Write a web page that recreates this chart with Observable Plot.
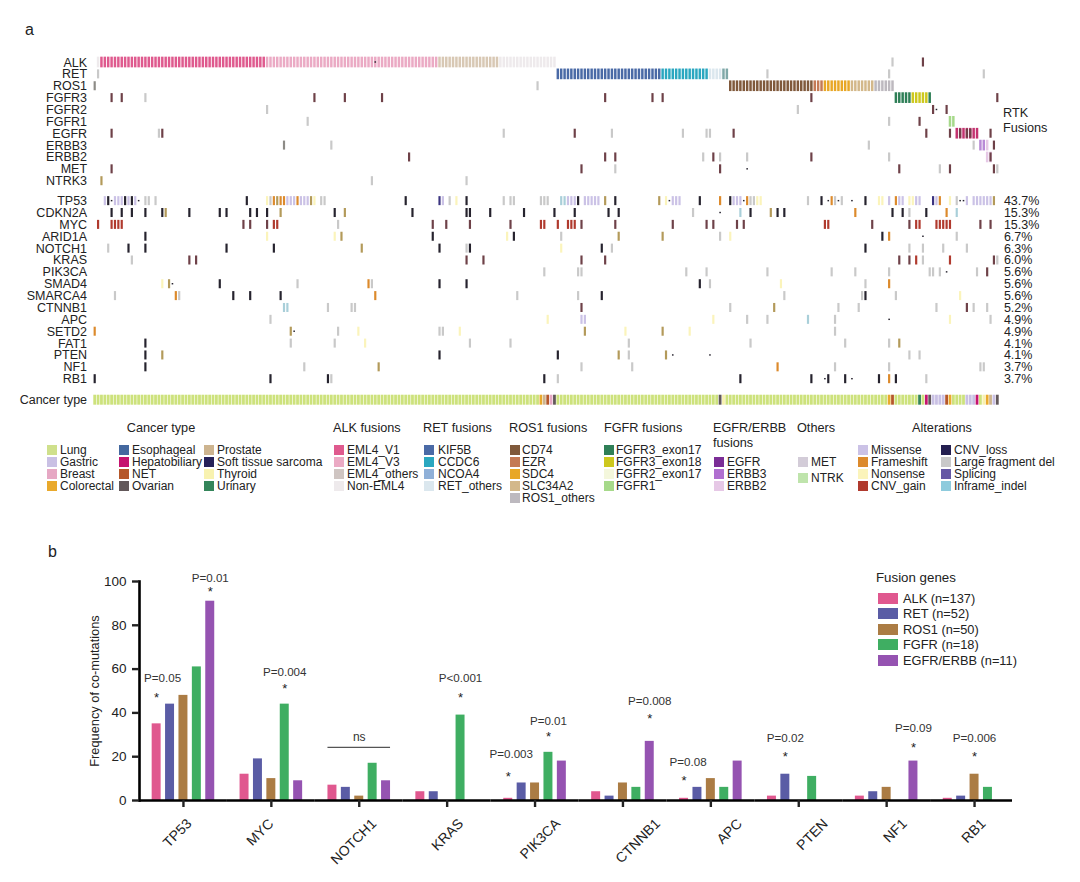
<!DOCTYPE html>
<html><head><meta charset="utf-8">
<script src="https://cdn.jsdelivr.net/npm/d3@7"></script>
<script src="https://cdn.jsdelivr.net/npm/@observablehq/plot@0.6"></script>
<style>
html,body{margin:0;padding:0;background:#fff}
#page{position:relative;width:1080px;height:882px;overflow:hidden;font-family:"Liberation Sans",Arial,sans-serif;color:#222}
#page svg{position:absolute;left:0;font-family:"Liberation Sans",Arial,sans-serif;background:none}
.t{position:absolute;white-space:nowrap;font-size:12px;line-height:12px}
.s{position:absolute}
</style></head><body><div id="page"></div>
<script>
// ---------- panel a: oncoprint ----------
const sampleCount = 268;
const fusionGenes = ["ALK","RET","ROS1","FGFR3","FGFR2","FGFR1","EGFR","ERBB3","ERBB2","MET","NTRK3"];
const mutationGenes = ["TP53","CDKN2A","MYC","ARID1A","NOTCH1","KRAS","PIK3CA","SMAD4","SMARCA4","CTNNB1","APC","SETD2","FAT1","PTEN","NF1","RB1"];
const mutationPct = ["43.7%","15.3%","15.3%","6.7%","6.3%","6.0%","5.6%","5.6%","5.6%","5.2%","4.9%","4.9%","4.1%","4.1%","3.7%","3.7%"];

// fusion strips: [gene, first sample, last sample + 1, fusion partner]
const fusionRuns = [
 ["ALK",1,2,"Non-EML4"],["ALK",2,51,"EML4_V1"],["ALK",51,102,"EML4_V3"],["ALK",102,120,"EML4_others"],["ALK",120,137,"Non-EML4"],
 ["RET",137,168,"KIF5B"],["RET",168,182,"CCDC6"],["RET",182,186,"RET_others"],["RET",186,188,"NCOA4"],
 ["ROS1",188,213,"CD74"],["ROS1",213,216,"EZR"],["ROS1",216,224,"SDC4"],["ROS1",224,231,"SLC34A2"],["ROS1",231,237,"ROS1_others"],
 ["FGFR3",237,242,"FGFR3_exon17"],["FGFR3",242,247,"FGFR3_exon18"],["FGFR3",247,248,"FGFR3_exon17"],
 ["FGFR1",253,255,"FGFR1"],["EGFR",255,262,"EGFR"],["ERBB3",262,264,"ERBB3"],["ERBB3",264,265,"ERBB2"],["ERBB2",264,266,"ERBB2"]
];

// sparse calls: sample number + alteration code
const ALK_calls=["83d","236D","245A"];
const RET_calls=["1D","199D","235D","263D"];
const ROS1_calls=["0K","131D"];
const FGFR3_calls=["5A","8A","15D","65A","74A","85A","151A","165A","168A","212A","267A"];
const FGFR2_calls=["51D","208D","248A","249d","252A"];
const FGFR1_calls=["63D","235D","244A"];
const EGFR_calls=["5A","19D","20A","121D","142A","153D","174D","181D","182D","189A","246A","253A","256A","258A","259A","265A"];
const ERBB3_calls=["56K","70D","229D","260D","266A"];
const ERBB2_calls=["93A","151A","154A","180D","183A","185D","193D","212A","235D","265A"];
const MET_calls=["5A","144A","154D","185A","193d","238A","250D","253A","266A","267D"];
const NTRK3_calls=["2T","82D","110D"];
const TP53_calls=["3M","4L","5d","6M","7M","8M","9L","10M","11L","12M","13d","15D","16D","18D","45L","51N","52D","53F","54T","55F","56F","57M","58M","59M","60F","61M","62M","63M","64T","65N","67D","68D","92L","102S","103M","105D","107N","110L","121D","123D","124D","132D","133D","134D","138I","139I","140M","141M","142M","143L","145M","146M","147M","148M","149M","151T","154L","167T","169N","170d","171M","172M","173M","179L","185F","188L","189M","190M","191M","192d","193F","194D","195D","196N","197N","211D","215L","217d","218F","219D","220d","221D","224d","228L","232N","233N","235M","237F","238M","239M","241N","242N","243M","244M","248S","249M","250F","253N","255D","256d","257d","258M","260M","261M","262M","263M","264M","265M","266T"];
const CDKN2A_calls=["5L","8L","11L","15L","20L","21T","28L","37L","39L","46L","48L","51L","55T","71L","74T","94L","110L","111L","117L","127L","136L","142L","152L","155L","177D","185d","191I","194L","200T","202L","204L","225F","236L","239L","241D","246L","252F","255I"];
const MYC_calls=["1G","5G","6G","7G","8G","44A","46A","51A","53G","54G","72D","100A","104A","111A","123A","132G","133G","137G","140G","141G","142G","144A","154A","171A","181A","183A","190A","192A","216G","217G","230A","241A","243G","244G","249G","250G","251G","252G","253G","262A","265A"];
const ARID1A_calls=["15L","51N","71N","73T","100L","122N","124L","138D","155T","168T","185D","188N","233L","235F","245d","255D"];
const NOTCH1_calls=["4D","10L","15L","39L","53L","79T","102L","110D","111L","138N","150L","153D","228L","241D","245D","251D","258D"];
const KRAS_calls=["11D","28A","30A","110A","115A","144A","151A","238A","241A","243G","245D","253G","266A","267D"];
const PIK3CA_calls=["133D","143D","144D","175D","181D","199D","218D","225D","235D","247D","248D","250D","252d","261D","264A"];
const SMAD4_calls=["20N","22T","23d","37L","60D","81F","82D","102L","110L","179L","182D","203N","228D","235F"];
const SMARCA4_calls=["6D","24F","25D","41L","46L","55L","83F","125D","143D","150L","204D","227D","228L","237D","256N"];
const CTNNB1_calls=["56I","57I","69D","76D","77D","144A","188D","201T","220D","226D","249D","258A","260D","264D"];
const APC_calls=["52D","134N","144M","145M","183N","193D","199D","211I","219D","235d","253N","265D"];
const SETD2_calls=["0F","58T","59d","72D","78N","102D","103D","108N","145T","157N","168T","176N","219D"];
const FAT1_calls=["15L","58D","71D","80N","111D","123D","158D","194D","222D","235D","238T"];
const PTEN_calls=["15L","20T","102L","137L","155T","158D","169T","171d","182d","241D","244D"];
const NF1_calls=["15L","62D","84T","144D","159D","202F","219D","235D","262D","263D"];
const RB1_calls=["0L","52L","69L","70D","133L","137D","191L","212L","216d","217L","222L","224d","232L","235F","237L","246D"];
const callsByGene={ALK:ALK_calls,RET:RET_calls,ROS1:ROS1_calls,FGFR3:FGFR3_calls,FGFR2:FGFR2_calls,FGFR1:FGFR1_calls,EGFR:EGFR_calls,ERBB3:ERBB3_calls,ERBB2:ERBB2_calls,MET:MET_calls,NTRK3:NTRK3_calls,TP53:TP53_calls,CDKN2A:CDKN2A_calls,MYC:MYC_calls,ARID1A:ARID1A_calls,NOTCH1:NOTCH1_calls,KRAS:KRAS_calls,PIK3CA:PIK3CA_calls,SMAD4:SMAD4_calls,SMARCA4:SMARCA4_calls,CTNNB1:CTNNB1_calls,APC:APC_calls,SETD2:SETD2_calls,FAT1:FAT1_calls,PTEN:PTEN_calls,NF1:NF1_calls,RB1:RB1_calls};

// cancer type strip: everything is Lung apart from these samples
const cancerExceptions=[[132,"Colorectal"],[133,"Prostate"],[134,"NET"],[135,"Breast"],[136,"Ovarian"],[185,"Ovarian"],[186,"Thyroid"],[235,"Colorectal"],[236,"NET"],[244,"Urinary"],[246,"Hepatobiliary"],[247,"Ovarian"],[248,"Gastric"],[249,"Gastric"],[250,"Gastric"],[251,"Gastric"],[252,"NET"],[253,"Colorectal"],[258,"Gastric"],[259,"Gastric"],[260,"Gastric"],[261,"Hepatobiliary"],[263,"Thyroid"],[264,"Colorectal"],[265,"Prostate"],[266,"Gastric"],[267,"Ovarian"]];

// legend contents
const cancerNames=["Lung","Gastric","Breast","Colorectal","Esophageal","Hepatobiliary","NET","Ovarian","Prostate","Soft tissue sarcoma","Thyroid","Urinary"];
const cancerColors=["#cfe08c","#c9c0e4","#e6a8c4","#e9a92c","#44689f","#c5136f","#b5572a","#62585a","#cdb48f","#262158","#f8f2b0","#34855a"];
const alkNames=["EML4_V1","EML4_V3","EML4_others","Non-EML4"], alkColors=["#df5a8e","#ebaac4","#cfc5c2","#eeeaec"];
const retNames=["KIF5B","CCDC6","NCOA4","RET_others"], retColors=["#4a6aa6","#2aa7c0","#8fb0d8","#dbe7ee"];
const rosNames=["CD74","EZR","SDC4","SLC34A2","ROS1_others"], rosColors=["#80593b","#c47a55","#e8a726","#d3b88a","#bdb9bf"];
const fgfrNames=["FGFR3_exon17","FGFR3_exon18","FGFR2_exon17","FGFR1"], fgfrColors=["#2f7f57","#cdc81e","#f4f7dc","#a6d98a"];
const egfrNames=["EGFR","ERBB3","ERBB2"], egfrColors=["#7b2d96","#b06fd0","#e6c8e6"];
const otherNames=["MET","NTRK"], otherColors=["#d3ccd8","#bfe4ac"];
const altNames=["Missense","Frameshift","Nonsense","CNV_gain","CNV_loss","Large fragment del","Splicing","Inframe_indel"];
const altColors=["#cbc2e6","#dc8a2c","#fbf4bb","#b03a2e","#241f50","#c9c9c9","#6558a4","#8ecbdd"];

const fusionPalette=Object.fromEntries([...alkNames.map((n,i)=>[n,alkColors[i]]),...retNames.map((n,i)=>[n,retColors[i]]),...rosNames.map((n,i)=>[n,rosColors[i]]),...fgfrNames.map((n,i)=>[n,fgfrColors[i]]),...egfrNames.map((n,i)=>[n,egfrColors[i]])]);
// colours as the strips show them (blurred against white, overlapping calls)
Object.assign(fusionPalette,{EML4_others:"#d8c8b4",NCOA4:"#7fa8a8",EGFR:"#c4326f",ERBB3:"#b98ad6"});
const callPalette={M:altColors[0],F:altColors[1],N:altColors[2],G:altColors[3],L:"#26232e",D:altColors[5],S:"#3b3480",I:"#a9cfd9",A:"#6e4148",T:"#b39a5a",K:"#8d8b86",d:"#26232e"};
const cancerPalette=Object.fromEntries(cancerNames.map((n,i)=>[n,cancerColors[i]]));

const rowIndex=new Map();
fusionGenes.forEach((g,i)=>rowIndex.set(g,i));
const mutationStart=11.68;
mutationGenes.forEach((g,i)=>rowIndex.set(g,mutationStart+i));
const cancerRow=mutationStart+15+1.77;

const stripCells=fusionRuns.flatMap(([g,a,b,p])=>d3.range(a,b).map(c=>({c,r:rowIndex.get(g),fill:fusionPalette[p]})));
const callCells=Object.entries(callsByGene).flatMap(([g,list])=>list.map(s=>({c:parseInt(s),code:s.slice(-1),r:rowIndex.get(g)})));
const fullCalls=callCells.filter(d=>d.code!=="d"), dashCalls=callCells.filter(d=>d.code==="d");
const cancerOverride=new Map(cancerExceptions);
const cancerCells=d3.range(sampleCount).map(c=>({c,r:cancerRow,type:cancerOverride.get(c)||"Lung"}));
const labelRows=[...fusionGenes,...mutationGenes].map(g=>({g,r:rowIndex.get(g)})).concat([{g:"Cancer type",r:cancerRow}]);
const pctRows=mutationGenes.map((g,i)=>({p:mutationPct[i],r:rowIndex.get(g)}));

const rowPx=i=>62+11.87*i;
const oncoprint=Plot.plot({
  width:1080,height:425,marginTop:0,marginBottom:0,marginLeft:0,marginRight:0,
  x:{domain:[0,sampleCount],range:[93,999],axis:null},
  y:{domain:[-1,30],range:[rowPx(-1),rowPx(30)],axis:null},
  marks:[
    Plot.rect(cancerCells,{x1:"c",x2:d=>d.c+1,y1:d=>d.r-.42,y2:d=>d.r+.42,fill:d=>d.type==="Lung"?"#cde27c":cancerPalette[d.type],insetLeft:.3,insetRight:.3}),
    Plot.rect(stripCells,{x1:"c",x2:d=>d.c+1,y1:d=>d.r-.45,y2:d=>d.r+.45,fill:"fill",insetLeft:.45,insetRight:.45}),
    Plot.rect(fullCalls,{x1:"c",x2:d=>d.c+1,y1:d=>d.r-.38,y2:d=>d.r+.38,fill:d=>callPalette[d.code],insetLeft:.6,insetRight:.6}),
    Plot.rect(dashCalls,{x1:"c",x2:d=>d.c+1,y1:d=>d.r-.06,y2:d=>d.r+.06,fill:d=>callPalette[d.code],insetLeft:.9,insetRight:.9}),
    Plot.text(labelRows,{x:-1.9,y:"r",text:"g",textAnchor:"end",fontSize:12.5,fill:"#222"}),
    Plot.text(pctRows,{x:sampleCount+1.3,y:"r",text:"p",textAnchor:"start",fontSize:12.5,fill:"#222"})
  ]
});
oncoprint.style.top="0px";

// ---------- panel b: co-mutation bars ----------
const barGenes=["TP53","MYC","NOTCH1","KRAS","PIK3CA","CTNNB1","APC","PTEN","NF1","RB1"];
const fusionGroups=["ALK","RET","ROS1","FGFR","EGFR/ERBB"];
const groupCounts=["ALK (n=137)","RET (n=52)","ROS1 (n=50)","FGFR (n=18)","EGFR/ERBB (n=11)"];
const groupColors=["#e0588f","#5a5ca5","#ab7c44","#3fae62","#9553b1"];
const alkFreq=[35,12,7,4,1,4,1,2,2,1];
const retFreq=[44,19,6,4,8,2,6,12,4,2];
const ros1Freq=[48,10,2,0,8,8,10,0,6,12];
const fgfrFreq=[61,44,17,39,22,6,6,11,0,6];
const egfrFreq=[91,9,9,0,18,27,18,0,18,0];
const freqs=[alkFreq,retFreq,ros1Freq,fgfrFreq,egfrFreq];
const barData=fusionGroups.flatMap((s,i)=>barGenes.map((g,j)=>({gene:g,group:s,value:freqs[i][j]}))).filter(d=>d.value>0);
// significance notes: gene, group above which it sits, star height, label height, label
const notes=[
 ["TP53","ALK",48.4,55.7,"P=0.05"],["TP53","EGFR/ERBB",96.8,101.5,"P=0.01"],
 ["MYC","FGFR",52.5,58.6,"P=0.004"],["KRAS","FGFR",48.2,55.7,"P<0.001"],
 ["PIK3CA","ALK",12.2,20.9,"P=0.003"],["PIK3CA","FGFR",30.6,36.2,"P=0.01"],
 ["CTNNB1","EGFR/ERBB",38.6,45.2,"P=0.008"],["APC","ALK",10.5,17.5,"P=0.08"],
 ["PTEN","RET",21.3,28.6,"P=0.02"],["NF1","EGFR/ERBB",25.3,33.2,"P=0.09"],["RB1","ROS1",21.1,28.2,"P=0.006"]
].map(([gene,group,star,lab,text])=>({gene,group,star,lab,text}));
const noteNudge={"P=0.05":6,"P=0.003":3,"P=0.08":4};
const tickLabelShift={TP53:9,MYC:3,NOTCH1:18,KRAS:17,PIK3CA:26,CTNNB1:38,APC:32,PTEN:30,NF1:21,RB1:12};

const bars=Plot.plot({
  width:1080,height:322,marginTop:21,marginBottom:82,marginLeft:139,marginRight:62,
  fx:{domain:barGenes,padding:0,round:false,axis:null},
  x:{domain:fusionGroups,paddingInner:.33,paddingOuter:.945,round:false,axis:null},
  y:{domain:[0,100],axis:null},
  marks:[
    Plot.barY(barData,{fx:"gene",x:"group",y:"value",fill:d=>groupColors[fusionGroups.indexOf(d.group)]}),
    Plot.frame({anchor:"left",facet:"super",stroke:"#000",strokeWidth:2.6}),
    ...barGenes.map(g=>Plot.ruleY([0],{fx:()=>g,stroke:"#000",strokeWidth:2.6,insetRight:g==="RB1"?6:0})),
    Plot.axisY({anchor:"left",ticks:[0,20,40,60,80,100],tickSize:7,tickPadding:6,strokeWidth:2.4,fontSize:13.5,label:null,fill:"#222"}),
    Plot.axisY({anchor:"left",ticks:[],tickSize:0,fontSize:12.8,label:"Frequency of co-mutations",labelAnchor:"center",labelArrow:"none",labelOffset:50,fill:"#222"}),
    Plot.axisFx({anchor:"bottom",tickSize:7,strokeWidth:2.4,tickFormat:()=>"",label:null}),
    ...barGenes.map(g=>Plot.text([g],{fx:d=>d,frameAnchor:"bottom",text:d=>d,rotate:-45,textAnchor:"end",dx:tickLabelShift[g],dy:24,fontSize:14,fill:"#222"})),
    ...notes.map(n=>Plot.text([n],{fx:"gene",x:"group",y:"lab",text:"text",fontSize:11.6,fill:"#333",dx:noteNudge[n.text]||0})),
    Plot.text(notes,{fx:"gene",x:"group",y:"star",text:()=>"*",fontSize:13,fill:"#222",dy:3}),
    Plot.ruleY([{gene:"NOTCH1",v:24.3}],{fx:"gene",y:"v",x1:()=>"ALK",x2:()=>"EGFR/ERBB",stroke:"#555",strokeWidth:1.2}),
    Plot.text([{gene:"NOTCH1",v:28.9}],{fx:"gene",x:()=>"ROS1",y:"v",text:()=>"ns",fontSize:12,fill:"#333"})
  ]
});
bars.style.top="560px";

// ---------- page text and legends ----------
const page=document.getElementById("page");
page.append(oncoprint,bars);
function put(text,left,cy,opts={}){
  const e=document.createElement("div");e.className="t";e.textContent=text;
  e.style.left=left+"px";e.style.top=(cy-6)+"px";
  if(opts.size){e.style.fontSize=opts.size+"px";e.style.lineHeight=opts.size+"px";e.style.top=(cy-opts.size/2)+"px";}
  if(opts.center)e.style.transform="translateX(-50%)";
  page.append(e);
}
function swatch(color,left,cy,w,h){
  const e=document.createElement("div");e.className="s";
  e.style.cssText=`left:${left}px;top:${cy-h/2}px;width:${w}px;height:${h}px;background:${color}`;
  page.append(e);
}
function group(names,colors,sx,tx,rows){names.forEach((n,i)=>{swatch(colors[i],sx,rows[i],10,10.5);put(n,tx,rows[i]);});}
const rows4=[450,462,474,486], rows5=[450,462,474,486,498];
const titleSize={size:12.7};
put("a",25,30,{size:16});put("b",48,552,{size:16});
put("RTK",1003,113,titleSize);put("Fusions",1003,128,titleSize);
put("Cancer type",161,428,{center:true,size:12.7});
group(cancerNames.slice(0,4),cancerColors.slice(0,4),47,60,rows4);
group(cancerNames.slice(4,8),cancerColors.slice(4,8),119,132,rows4);
group(cancerNames.slice(8),cancerColors.slice(8),204,217,rows4);
put("ALK fusions",333,428,titleSize);group(alkNames,alkColors,334,347,rows4);
put("RET fusions",423,428,titleSize);group(retNames,retColors,424,438,rows4);
put("ROS1 fusions",509,428,titleSize);group(rosNames,rosColors,510,522,rows5);
put("FGFR fusions",604,428,titleSize);group(fgfrNames,fgfrColors,604,616,rows4);
put("EGFR/ERBB",713,428,titleSize);put("fusions",713,443,titleSize);group(egfrNames,egfrColors,714,727,[462,474,486]);
put("Others",797,428,titleSize);group(otherNames,otherColors,798,811,[462,478]);
put("Alterations",942,428,{center:true,size:12.7});
group(altNames.slice(0,4),altColors.slice(0,4),858,871,rows4);
group(altNames.slice(4),altColors.slice(4),941,954,rows4);
put("Fusion genes",876,578,{size:13.3});
groupCounts.forEach((n,i)=>{const y=598+15.5*i;swatch(groupColors[i],878,y,20,11);put(n,903,y+1,{size:12.8});});
</script></body></html>
